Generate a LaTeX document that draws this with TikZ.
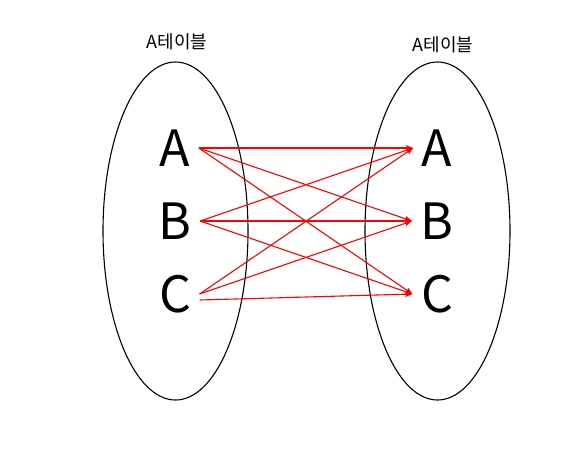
\documentclass[tikz,border=0pt]{standalone}
\usepackage{fontspec}
\setmainfont{Noto Sans CJK KR}
\usetikzlibrary{arrows.meta}

\begin{document}
\begin{tikzpicture}[x=1pt, y=-1pt,
  letter/.style = {font=\fontsize{50}{60}\selectfont, text height=36pt, text depth=0pt, inner sep=8.5pt},
  title/.style = {font=\fontsize{18}{21}\selectfont},
  link/.style = {red, line width=1.1pt, -{Stealth[length=7pt, width=5.5pt, inset=1pt]}}]
\useasboundingbox (0,0) rectangle (588,467);
\draw [line width=1.1pt] (175.5,231) ellipse [x radius=72.5, y radius=169];
\draw [line width=1.1pt] (437.5,231) ellipse [x radius=72.5, y radius=169];
\node [title] (ltitle) at (177,42) {A테이블};
\node [title] (rtitle) at (443,45) {A테이블};
\node [letter] (la) at (175,148) {A};
\node [letter] (lb) at (175,221) {B};
\node [letter] (lc) at (175,294) {C};
\node [letter] (ra) at (437,148) {A};
\node [letter] (rb) at (437,221) {B};
\node [letter] (rc) at (437,294) {C};
\draw [link] (la.east) -- (ra.west);
\draw [link] (la.east) -- (rb.west);
\draw [link] (la.east) -- (rc.west);
\draw [link] (lb.east) -- (ra.west);
\draw [link] (lb.east) -- (rb.west);
\draw [link] (lb.east) -- (rc.west);
\draw [link] (lc.east) -- (ra.west);
\draw [link] (lc.east) -- (rb.west);
\draw [link] ([yshift=-6pt]lc.east) -- (rc.west);
\end{tikzpicture}
\end{document}
